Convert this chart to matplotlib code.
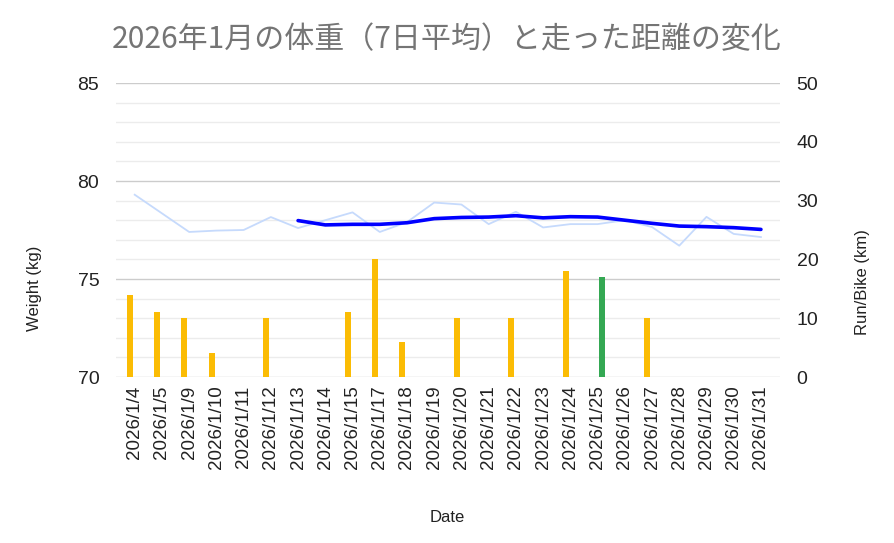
import matplotlib
matplotlib.use("Agg")
import matplotlib.pyplot as plt
import numpy as np

plt.rcParams['font.family'] = ['Liberation Sans', 'DejaVu Sans']

# data
dates = ['2026/1/4', '2026/1/5', '2026/1/9', '2026/1/10', '2026/1/11', '2026/1/12',
         '2026/1/13', '2026/1/14', '2026/1/15', '2026/1/17', '2026/1/18', '2026/1/19',
         '2026/1/20', '2026/1/21', '2026/1/22', '2026/1/23', '2026/1/24', '2026/1/25',
         '2026/1/26', '2026/1/27', '2026/1/28', '2026/1/29', '2026/1/30', '2026/1/31']
weight = [79.3, 78.35, 77.4, 77.47, 77.5, 78.16, 77.6, 78.0, 78.4, 77.4, 77.9, 78.9,
          78.8, 77.8, 78.43, 77.63, 77.8, 77.8, 78.0, 77.65, 76.7, 78.17, 77.3, 77.14]
weight_7d = [None] * 6 + [77.98, 77.76, 77.79, 77.79, 77.87, 78.08, 78.14, 78.16, 78.23,
                          78.12, 78.18, 78.16, 78.0, 77.84, 77.7, 77.67, 77.62, 77.53]
run_km = [14, 11, 10, 4, 0, 10, 0, 0, 11, 20, 6, 0, 10, 0, 10, 0, 18, 0, 0, 10, 0, 0, 0, 0]
bike_km = [0] * 17 + [17] + [0] * 6

W, H = 894, 543
fig = plt.figure(figsize=(W / 100, H / 100), dpi=100)
L, R, T, B = 116, 780, 83, 377
ax2 = fig.add_axes([L / W, 1 - B / H, (R - L) / W, (B - T) / H])
ax = ax2.twinx()
ax.set_zorder(ax2.get_zorder() + 1)
ax.patch.set_visible(False)

x = np.arange(len(dates))

# gridlines (weight scale)
for v in range(70, 86):
    col = '#cccccc' if v % 5 == 0 else '#ececec'
    ax2.axhline((v - 70) * 50 / 15, color=col, lw=1, zorder=0)

ax2.bar(x - 0.173, run_km, width=0.22, color='#fbbc04', zorder=2)
ax2.bar(x + 0.173, bike_km, width=0.22, color='#34a853', zorder=2)
ax2.set_ylim(0, 50)
ax2.set_yticks(range(0, 51, 10))

w7 = np.array([np.nan if v is None else v for v in weight_7d])
ax.plot(x, weight, color='#c6dafc', lw=1.3, zorder=3)
ax.plot(x, w7, color='#0000ff', lw=2.6, zorder=4, solid_capstyle='round')
ax.set_ylim(70, 85)
ax.set_yticks([70, 75, 80, 85])

# left ticks for weight, right ticks for km
ax.yaxis.tick_left()
ax2.yaxis.tick_right()
for a in (ax, ax2):
    for s in a.spines.values():
        s.set_visible(False)
    a.tick_params(length=0, labelsize=14, colors='#222222', pad=12)
ax2.set_xticks(x)
ax2.set_xticklabels(dates, rotation=90, fontsize=13.5)
ax2.tick_params(axis='x', pad=6)
ax2.set_xlim(-0.687, 23.70)

fig.text(447 / W, 1 - 40 / H, '2026年1月の体重（7日平均）と走った距離の変化',
         ha='center', va='center', fontsize=21.6, color='#757575',
         family=['Noto Sans CJK JP', 'DejaVu Sans'])
fig.text(34 / W, 1 - 288 / H, 'Weight (kg)', rotation=90, ha='center', va='center',
         fontsize=12, color='#222222')
fig.text(862 / W, 1 - 282 / H, 'Run/Bike (km)', rotation=90, ha='center', va='center',
         fontsize=12, color='#222222')
fig.text(447 / W, 1 - 517 / H, 'Date', ha='center', va='center', fontsize=12,
         color='#222222')

fig.savefig('out.png', dpi=100)
